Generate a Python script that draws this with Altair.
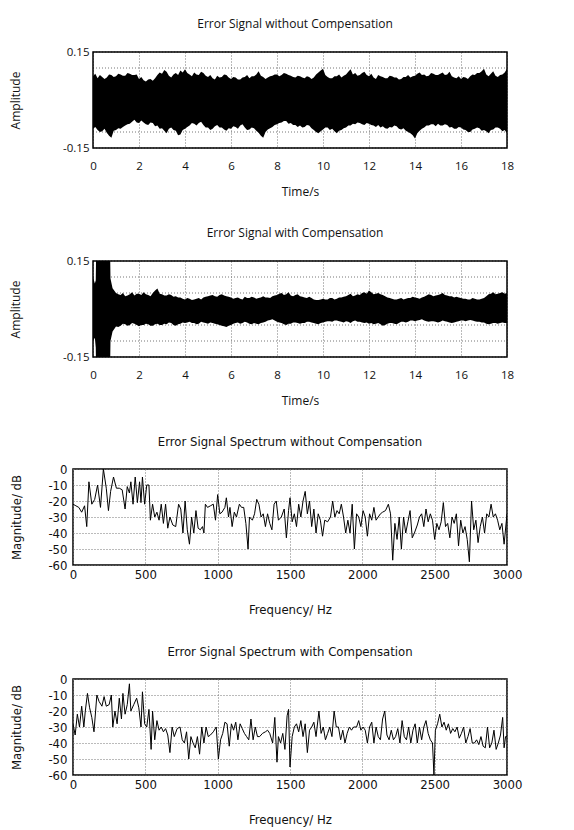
import altair as alt
import pandas as pd

# ---------------- time-domain envelopes (upper / lower edge of the dense noise band) -------------
T1 = [round(0.1 * i, 1) for i in range(181)]
U1 = [.075, .082, .068, .078, .072, .066, .070, .080, .078, .072,
      .074, .082, .080, .076, .076, .084, .082, .078, .078, .080,
      .066, .072, .062, .058, .064, .066, .060, .068, .078, .086,
      .082, .094, .088, .076, .070, .080, .084, .078, .092, .086,
      .096, .084, .080, .074, .086, .080, .078, .088, .084, .076,
      .072, .078, .068, .064, .076, .070, .072, .080, .078, .070,
      .066, .072, .070, .064, .064, .070, .072, .078, .068, .074,
      .074, .080, .090, .076, .072, .066, .070, .074, .076, .080,
      .080, .074, .078, .084, .082, .078, .076, .072, .070, .076,
      .074, .070, .068, .074, .072, .066, .070, .080, .086, .092,
      .098, .078, .072, .068, .068, .074, .074, .080, .070, .076,
      .080, .088, .096, .080, .084, .076, .078, .084, .088, .078,
      .074, .082, .070, .066, .078, .074, .072, .068, .068, .076,
      .074, .070, .070, .064, .066, .072, .072, .078, .070, .074,
      .076, .082, .086, .078, .080, .074, .076, .084, .082, .078,
      .078, .082, .086, .078, .080, .088, .074, .070, .068, .074,
      .066, .072, .070, .066, .074, .080, .078, .084, .084, .090,
      .098, .080, .074, .082, .090, .076, .072, .078, .080, .086,
      .098]
L1 = [-.090, -.084, -.094, -.100, -.098, -.090, -.102, -.112, -.118, -.096,
      -.094, -.088, -.090, -.084, -.080, -.076, -.074, -.068, -.062, -.070,
      -.072, -.064, -.070, -.076, -.078, -.070, -.072, -.082, -.080, -.090,
      -.088, -.096, -.104, -.090, -.086, -.094, -.096, -.110, -.108, -.094,
      -.090, -.084, -.080, -.072, -.074, -.080, -.072, -.068, -.078, -.086,
      -.086, -.094, -.090, -.082, -.078, -.086, -.086, -.092, -.096, -.088,
      -.090, -.082, -.084, -.090, -.080, -.076, -.086, -.094, -.092, -.086,
      -.088, -.096, -.102, -.112, -.118, -.100, -.092, -.088, -.084, -.078,
      -.076, -.072, -.070, -.066, -.066, -.074, -.072, -.078, -.078, -.084,
      -.080, -.086, -.084, -.078, -.080, -.088, -.094, -.100, -.104, -.098,
      -.092, -.086, -.086, -.094, -.090, -.098, -.104, -.096, -.094, -.088,
      -.086, -.080, -.080, -.074, -.076, -.070, -.072, -.076, -.078, -.072,
      -.074, -.078, -.080, -.084, -.078, -.086, -.082, -.088, -.090, -.084,
      -.086, -.080, -.082, -.090, -.092, -.088, -.096, -.100, -.104, -.110,
      -.120, -.104, -.096, -.090, -.086, -.080, -.080, -.076, -.076, -.082,
      -.074, -.080, -.080, -.076, -.078, -.086, -.084, -.090, -.090, -.084,
      -.086, -.092, -.094, -.100, -.100, -.092, -.090, -.086, -.088, -.096,
      -.094, -.098, -.104, -.094, -.092, -.086, -.086, -.090, -.098, -.094,
      -.104]

T2_START = [0.0, 0.08, 0.12, 0.16, 0.72, 0.76, 0.85, 1.0]
U2_START = [0.10, 0.08, 0.09, 0.30, 0.30, 0.095, 0.065, 0.050]
L2_START = [-0.10, -0.09, -0.12, -0.30, -0.30, -0.100, -0.070, -0.055]
T2_REST = [round(1.1 + 0.1 * i, 1) for i in range(170)]
U2_REST = [.046, .044, .050, .040, .042, .046, .052, .042, .048, .048,
           .044, .052, .046, .044, .040, .050, .058, .064, .048, .046,
           .042, .042, .046, .044, .038, .040, .036, .036, .032, .030,
           .034, .032, .028, .030, .032, .034, .030, .036, .038, .040,
           .042, .044, .040, .038, .044, .046, .042, .040, .038, .036,
           .032, .034, .036, .032, .030, .038, .034, .034, .038, .036,
           .032, .034, .036, .040, .036, .036, .034, .040, .042, .044,
           .048, .050, .044, .046, .052, .042, .040, .044, .046, .040,
           .038, .036, .034, .038, .034, .030, .028, .028, .030, .032,
           .030, .030, .034, .034, .030, .032, .036, .036, .038, .040,
           .044, .048, .040, .042, .046, .044, .050, .052, .048, .058,
           .052, .046, .048, .050, .046, .044, .040, .036, .034, .032,
           .030, .030, .032, .034, .030, .032, .034, .034, .038, .036,
           .034, .032, .036, .038, .042, .046, .044, .040, .042, .044,
           .046, .050, .044, .042, .040, .040, .036, .038, .036, .034,
           .032, .032, .030, .030, .034, .032, .030, .030, .032, .034,
           .040, .046, .048, .052, .046, .048, .050, .052, .048, .050]
L2_REST = [-.056, -.052, -.046, -.048, -.052, -.050, -.044, -.046, -.050, -.054,
           -.050, -.050, -.046, -.048, -.052, -.052, -.048, -.046, -.050, -.050,
           -.046, -.048, -.042, -.044, -.050, -.052, -.048, -.046, -.042, -.044,
           -.042, -.040, -.044, -.044, -.048, -.046, -.040, -.042, -.044, -.046,
           -.042, -.044, -.046, -.048, -.050, -.052, -.054, -.056, -.052, -.050,
           -.046, -.044, -.042, -.046, -.044, -.040, -.042, -.046, -.048, -.044,
           -.046, -.048, -.044, -.042, -.040, -.036, -.034, -.032, -.036, -.040,
           -.042, -.044, -.048, -.050, -.046, -.046, -.042, -.042, -.044, -.046,
           -.044, -.044, -.040, -.040, -.042, -.044, -.046, -.048, -.044, -.042,
           -.040, -.038, -.038, -.040, -.036, -.036, -.038, -.040, -.042, -.038,
           -.040, -.044, -.038, -.036, -.040, -.040, -.042, -.044, -.042, -.046,
           -.044, -.048, -.046, -.044, -.048, -.052, -.050, -.046, -.044, -.044,
           -.046, -.048, -.044, -.040, -.040, -.042, -.040, -.036, -.036, -.038,
           -.036, -.034, -.032, -.036, -.038, -.040, -.038, -.038, -.040, -.042,
           -.040, -.036, -.038, -.040, -.042, -.044, -.042, -.040, -.038, -.036,
           -.036, -.038, -.036, -.034, -.036, -.038, -.040, -.040, -.042, -.042,
           -.046, -.048, -.046, -.044, -.044, -.046, -.044, -.042, -.044, -.044]

# ---------------- spectra ----------------
F1 = [0, 20, 40, 60, 80, 95, 110, 130, 150, 170,
      190, 210, 230, 245, 260, 280, 300, 320, 340, 360,
      375, 390, 400, 415, 430, 445, 460, 470, 480, 495,
      510, 525, 535, 550, 565, 580, 595, 610, 625, 640,
      655, 670, 690, 710, 730, 745, 760, 775, 790, 805,
      820, 835, 850, 865, 880, 895, 905, 915, 930, 950,
      970, 985, 1000, 1015, 1030, 1050, 1060, 1075, 1085, 1100,
      1115, 1130, 1150, 1165, 1180, 1195, 1210, 1220, 1240, 1255,
      1270, 1285, 1300, 1315, 1330, 1345, 1360, 1375, 1390, 1405,
      1420, 1440, 1460, 1475, 1490, 1500, 1515, 1530, 1545, 1560,
      1575, 1590, 1605, 1620, 1635, 1650, 1665, 1680, 1695, 1710,
      1725, 1740, 1760, 1780, 1795, 1810, 1825, 1840, 1855, 1870,
      1885, 1900, 1915, 1930, 1945, 1960, 1975, 1990, 2005, 2020,
      2035, 2050, 2065, 2080, 2095, 2110, 2125, 2140, 2160, 2180,
      2195, 2210, 2225, 2240, 2255, 2270, 2285, 2300, 2315, 2330,
      2345, 2360, 2380, 2395, 2410, 2425, 2440, 2455, 2470, 2485,
      2500, 2515, 2530, 2545, 2560, 2575, 2590, 2605, 2620, 2635,
      2650, 2665, 2680, 2695, 2710, 2725, 2740, 2755, 2770, 2785,
      2800, 2815, 2830, 2845, 2860, 2875, 2890, 2905, 2920, 2935,
      2950, 2965, 2980, 3000]
M1 = [-22, -23, -24, -27, -23, -36, -8, -22, -19, -10,
      -24, 0, -12, -26, -14, -5, -12, -12, -13, -25,
      -11, -15, -8, -22, -5, -21, -8, -21, -5, -22,
      -10, -10, -32, -22, -30, -27, -32, -22, -34, -22,
      -37, -30, -35, -36, -22, -25, -40, -20, -38, -47,
      -30, -40, -26, -37, -38, -36, -40, -22, -24, -23,
      -22, -32, -16, -28, -27, -24, -18, -30, -24, -36,
      -27, -30, -22, -24, -24, -34, -50, -30, -32, -28,
      -19, -22, -30, -28, -36, -28, -34, -38, -22, -20,
      -32, -30, -25, -43, -26, -18, -33, -28, -36, -22,
      -30, -20, -14, -28, -20, -36, -25, -40, -28, -32,
      -42, -32, -33, -30, -20, -30, -26, -28, -22, -30,
      -40, -32, -40, -22, -50, -28, -30, -36, -26, -30,
      -42, -28, -32, -24, -32, -30, -28, -27, -26, -22,
      -28, -57, -34, -44, -30, -50, -30, -40, -33, -26,
      -43, -40, -35, -30, -28, -36, -25, -33, -28, -32,
      -44, -34, -38, -33, -21, -36, -34, -43, -30, -34,
      -28, -48, -32, -40, -36, -44, -58, -20, -38, -32,
      -46, -36, -30, -40, -28, -30, -22, -30, -28, -32,
      -38, -34, -47, -28]

F2 = [0, 15, 30, 45, 60, 75, 85, 100, 115, 130,
      145, 165, 180, 200, 215, 230, 250, 265, 275, 290,
      305, 320, 335, 345, 360, 375, 390, 400, 420, 440,
      455, 470, 480, 495, 510, 525, 540, 550, 565, 580,
      595, 610, 625, 640, 655, 670, 685, 700, 720, 740,
      755, 770, 785, 800, 815, 830, 845, 860, 875, 890,
      905, 920, 935, 950, 970, 990, 1005, 1020, 1035, 1050,
      1065, 1080, 1095, 1110, 1125, 1140, 1155, 1170, 1185, 1200,
      1215, 1230, 1245, 1260, 1275, 1290, 1310, 1330, 1345, 1360,
      1380, 1395, 1410, 1420, 1435, 1450, 1465, 1480, 1490, 1500,
      1515, 1530, 1545, 1560, 1575, 1590, 1605, 1620, 1635, 1650,
      1665, 1680, 1700, 1715, 1730, 1745, 1760, 1775, 1790, 1805,
      1820, 1835, 1850, 1865, 1880, 1895, 1910, 1925, 1940, 1960,
      1975, 1990, 2005, 2020, 2035, 2050, 2065, 2080, 2095, 2110,
      2125, 2140, 2155, 2170, 2185, 2200, 2215, 2230, 2245, 2260,
      2275, 2290, 2305, 2320, 2335, 2350, 2365, 2380, 2395, 2410,
      2425, 2440, 2455, 2470, 2485, 2495, 2505, 2520, 2535, 2550,
      2565, 2580, 2595, 2610, 2625, 2640, 2655, 2670, 2685, 2700,
      2715, 2730, 2745, 2760, 2775, 2790, 2805, 2820, 2835, 2850,
      2865, 2880, 2895, 2910, 2925, 2940, 2955, 2970, 2980, 2990,
      3000]
M2 = [-28, -35, -22, -30, -17, -30, -20, -9, -18, -24,
      -33, -10, -14, -17, -11, -17, -16, -10, -30, -20,
      -28, -12, -25, -9, -22, -16, -3, -20, -16, -12,
      -18, -30, -8, -28, -30, -19, -44, -20, -38, -26,
      -32, -30, -33, -31, -35, -46, -30, -36, -31, -30,
      -38, -40, -33, -50, -36, -40, -43, -36, -47, -30,
      -40, -30, -36, -35, -33, -30, -50, -38, -34, -27,
      -28, -42, -28, -32, -27, -38, -28, -31, -34, -36,
      -38, -25, -38, -30, -36, -36, -34, -33, -32, -34,
      -40, -24, -52, -36, -40, -34, -44, -23, -19, -55,
      -36, -30, -28, -33, -26, -36, -28, -46, -32, -30,
      -27, -36, -20, -34, -30, -38, -34, -30, -36, -20,
      -30, -30, -38, -32, -40, -34, -30, -32, -30, -30,
      -26, -32, -30, -32, -40, -30, -27, -40, -30, -36,
      -38, -25, -20, -35, -38, -32, -38, -36, -31, -40,
      -26, -36, -38, -30, -40, -32, -28, -40, -30, -38,
      -30, -26, -34, -38, -40, -60, -32, -28, -22, -30,
      -27, -32, -28, -34, -31, -33, -30, -37, -34, -30,
      -40, -36, -31, -40, -40, -38, -41, -36, -42, -43,
      -30, -43, -40, -32, -44, -40, -35, -24, -43, -36,
      -36]

TIME_TICKS = [0, 2, 4, 6, 8, 10, 12, 14, 16, 18]
AMP_TICKS = [-0.15, -0.1, -0.05, 0, 0.05, 0.1, 0.15]
FREQ_TICKS = [0, 500, 1000, 1500, 2000, 2500, 3000]
DB_TICKS = [-60, -50, -40, -30, -20, -10, 0]

TITLES = ["Error Signal without Compensation", "Error Signal with Compensation",
          "Error Signal Spectrum without Compensation", "Error Signal Spectrum with Compensation"]

# layout: all panels share a 434-px plot cell; the time panels leave a 20-px gutter on the left
CELL_W = 434
TIME_GUTTER = 20
TIME_W = CELL_W - TIME_GUTTER
T_MIN = -18.0 * TIME_GUTTER / TIME_W

TFONT = "Open Sans"
SFONT = "'DejaVu Sans Condensed', 'DejaVu Sans'"
INK = "#111111"
GRID_COLOR = "#777777"
COMMON = dict(domain=False, ticks=False, tickSize=0, labelColor=INK, titleColor=INK,
              titleFontWeight="normal", labelExpr="'' + datum.value", labelOverlap=False)


def time_panel(t, hi, lo, title):
    df = pd.DataFrame({"t": t, "hi": hi, "lo": lo})
    xs = alt.Scale(domain=[T_MIN, 18], nice=False)
    ys = alt.Scale(domain=[-0.15, 0.15], nice=False, zero=False)
    x_axis = alt.Axis(values=TIME_TICKS, title="Time/s", labelFont=TFONT, titleFont=TFONT,
                      labelFontSize=11.5, titleFontSize=12, labelPadding=12, titlePadding=15,
                      labelFlush=False, grid=True, gridColor=GRID_COLOR, gridDash=[1, 2],
                      titleX=TIME_GUTTER + TIME_W / 2, **COMMON)
    y_axis = alt.Axis(values=AMP_TICKS, title="Amplitude", labelFont=TFONT, titleFont=TFONT,
                      labelFontSize=11.5, titleFontSize=12, labelPadding=4, grid=False,
                      offset=-TIME_GUTTER, minExtent=66, maxExtent=66, titlePadding=5,
                      zindex=1, labelBound=False, **COMMON)

    band = alt.Chart(df).mark_area(color="black", clip=True, interpolate="linear").encode(
        x=alt.X("t:Q", scale=xs, axis=x_axis),
        y=alt.Y("hi:Q", scale=ys, axis=y_axis),
        y2="lo:Q",
    )

    grid = alt.Chart(pd.DataFrame({"v": AMP_TICKS})).mark_rule(
        color=GRID_COLOR, strokeDash=[1, 2], strokeWidth=1
    ).encode(x=alt.datum(0), x2=alt.datum(18), y=alt.Y("v:Q", scale=ys, axis=y_axis))

    frame = alt.Chart(pd.DataFrame({"a": [0]})).mark_rect(
        filled=False, stroke="black", strokeWidth=1.5
    ).encode(x=alt.datum(0), x2=alt.datum(18), y=alt.datum(-0.15), y2=alt.datum(0.15))

    return alt.layer(grid, band, frame).properties(
        width=CELL_W, height=96,
        view=alt.ViewBackground(stroke="transparent"),
        title=alt.TitleParams(title, font=TFONT, fontSize=12, fontWeight="normal",
                              color=INK, offset=15, anchor="middle", dx=5),
    )


def spec_panel(f, m, title):
    df = pd.DataFrame({"f": f, "m": m})
    x_axis = alt.Axis(values=FREQ_TICKS, title="Frequency/ Hz", labelFont=SFONT, titleFont=SFONT,
                      labelFontSize=13, titleFontSize=13, labelPadding=3, titlePadding=22,
                      labelFlush=False, grid=True, gridColor=GRID_COLOR, gridDash=[1, 2], **COMMON)
    y_axis = alt.Axis(values=DB_TICKS, title="Magnitude/ dB", labelFont=SFONT, titleFont=SFONT,
                      labelFontSize=13, titleFontSize=13, labelPadding=6,
                      grid=True, gridColor=GRID_COLOR, gridDash=[1, 2],
                      minExtent=44, maxExtent=44, titlePadding=6, **COMMON)
    return alt.Chart(df).mark_line(color="black", strokeWidth=1, clip=True).encode(
        x=alt.X("f:Q", scale=alt.Scale(domain=[0, 3000], nice=False), axis=x_axis),
        y=alt.Y("m:Q", scale=alt.Scale(domain=[-60, 0], nice=False), axis=y_axis),
    ).properties(
        width=CELL_W, height=96,
        view=alt.ViewBackground(stroke="black", strokeWidth=1.5),
        title=alt.TitleParams(title, font=SFONT, fontSize=13, fontWeight="normal",
                              color=INK, offset=14, anchor="middle"),
    )


p1 = time_panel(T1, U1, L1, TITLES[0])
p2 = time_panel(T2_START + T2_REST, U2_START + U2_REST, L2_START + L2_REST, TITLES[1])
p3 = spec_panel(F1, M1, TITLES[2])
p4 = spec_panel(F2, M2, TITLES[3])

chart = alt.vconcat(p1, p2, p3, p4, spacing=28).properties(
    padding={"left": 0, "top": 9, "right": 5, "bottom": 0},
    background="white",
)

chart.save("out.html", embed_options={"renderer": "svg", "actions": False})
